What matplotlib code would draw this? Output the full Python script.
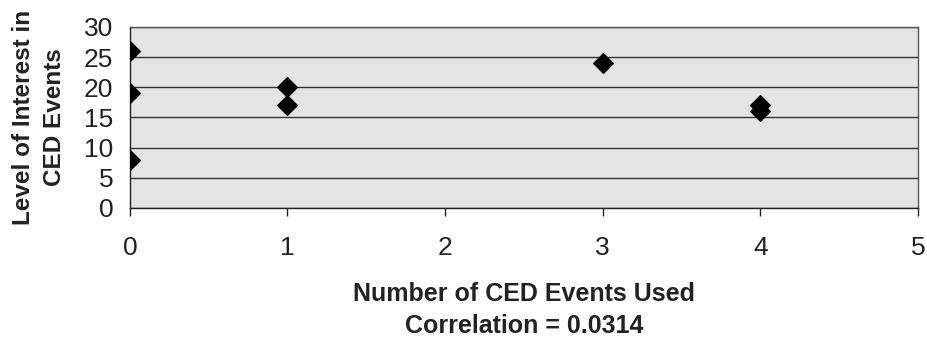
import matplotlib
matplotlib.use("Agg")
import matplotlib.pyplot as plt

# data
events_used = [0, 0, 0, 1, 1, 3, 4, 4]
interest = [26, 19, 8, 20, 17, 24, 17, 16]
x_ticks = [0, 1, 2, 3, 4, 5]
y_ticks = [0, 5, 10, 15, 20, 25, 30]

plt.rcParams['font.family'] = ['Liberation Sans', 'DejaVu Sans']

fig = plt.figure(figsize=(9.28, 3.37), dpi=100, facecolor='white')
ax = fig.add_axes([0.140, 0.383, 0.849, 0.537])
ax.set_facecolor('#e4e4e4')

ax.scatter(events_used, interest, marker='D', s=100, color='black', zorder=3)

ax.set_xlim(0, 5)
ax.set_ylim(0, 30)
ax.set_xticks(x_ticks)
ax.set_yticks(y_ticks)
ax.yaxis.grid(True, color='#333333', linewidth=1.0)
ax.set_axisbelow(True)
for s in ax.spines.values():
    s.set_color('#555555')
    s.set_linewidth(1.0)
ax.spines['left'].set_color('#222222')
ax.spines['bottom'].set_color('#222222')

ax.tick_params(axis='x', direction='out', length=6, width=1, pad=14,
               labelsize=19, colors='#222222')
ax.tick_params(axis='y', direction='out', length=0, pad=12,
               labelsize=19, colors='#222222')

ax.set_xlabel("Number of CED Events Used\nCorrelation = 0.0314",
              fontsize=18, fontweight='bold', color='#222222',
              labelpad=16, linespacing=1.45)
ax.set_ylabel("Level of Interest in\nCED Events", fontsize=17.5,
              fontweight='bold', color='#222222', labelpad=13,
              linespacing=1.45)

fig.savefig("out.png", dpi=100)
